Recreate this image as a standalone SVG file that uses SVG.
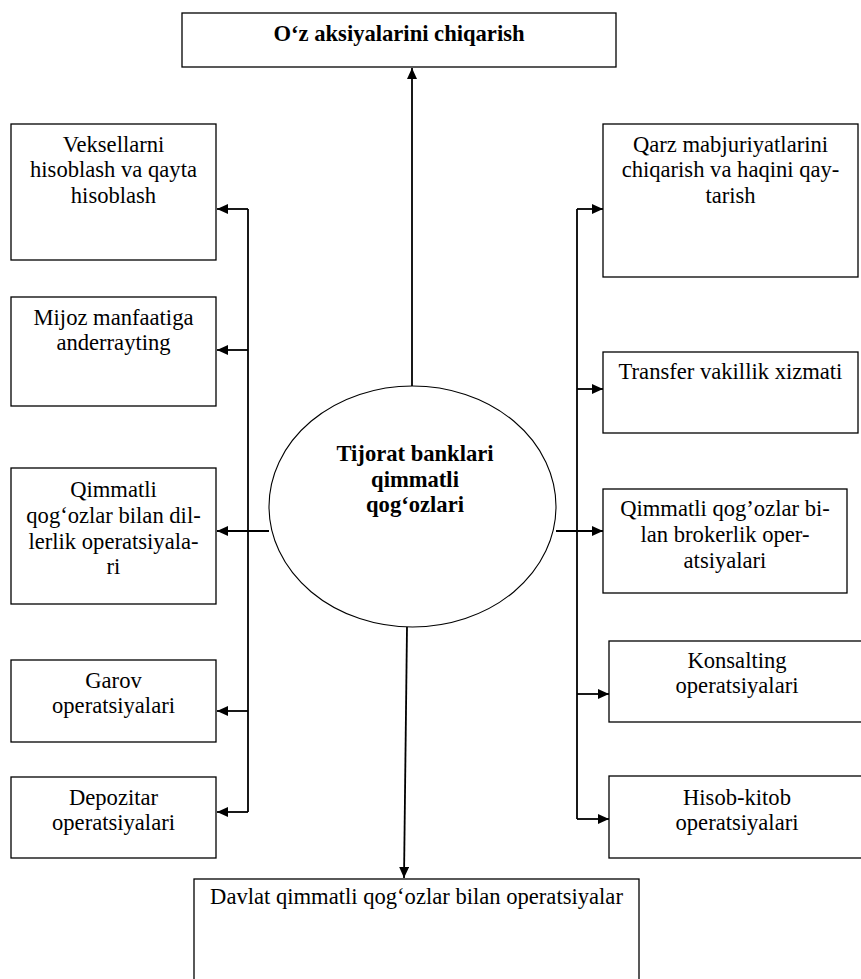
<svg xmlns="http://www.w3.org/2000/svg" width="861" height="979" viewBox="0 0 861 979">
<style>
.box{fill:#fff;stroke:#000;stroke-width:1.3}
.ell{fill:#fff;stroke:#000;stroke-width:1.1}
.t{font-family:"Liberation Serif","Times New Roman",serif;font-size:22.6px;fill:#000;text-anchor:middle}
.b{font-weight:bold}
.c{fill:none;stroke:#000;stroke-width:1.8}
.a{fill:none;stroke:#000;stroke-width:1.8;marker-end:url(#ah)}
</style>
<defs>
<marker id="ah" markerUnits="userSpaceOnUse" markerWidth="12" markerHeight="10" refX="11" refY="5" orient="auto">
<path d="M0,0 L11,5 L0,10 z" fill="#000"/>
</marker>
</defs>
<g id="connectors">
<path class="a" d="M412,386 V68"/>
<path class="c" d="M248,209 V812"/>
<path class="a" d="M248,209 H217"/>
<path class="a" d="M248,350 H217"/>
<path class="a" d="M269,531 H217"/>
<path class="a" d="M248,711 H217"/>
<path class="a" d="M248,812 H217"/>
<path class="c" d="M577,209 V819"/>
<path class="a" d="M577,209 H603"/>
<path class="a" d="M577,389 H603"/>
<path class="a" d="M556,531 H603"/>
<path class="a" d="M577,694 H609"/>
<path class="a" d="M577,819 H609"/>
<path class="a" d="M407,627 L404,878"/>
</g>
<g id="top">
<rect class="box" x="182" y="13" width="434" height="54"/>
<text class="t b" x="399" y="41">O‘z aksiyalarini chiqarish</text>
</g>
<g id="center">
<ellipse class="ell" cx="412.5" cy="506.5" rx="143.5" ry="120.5"/>
<text class="t b" x="415" y="461">Tijorat banklari</text>
<text class="t b" x="415" y="487">qimmatli</text>
<text class="t b" x="415" y="512">qog‘ozlari</text>
</g>
<g id="l1">
<rect class="box" x="11" y="124" width="205" height="136"/>
<text class="t" x="113.5" y="152">Veksellarni</text>
<text class="t" x="113.5" y="177">hisoblash va qayta</text>
<text class="t" x="113.5" y="203">hisoblash</text>
</g>
<g id="l2">
<rect class="box" x="11" y="297" width="205" height="109"/>
<text class="t" x="113.5" y="325">Mijoz manfaatiga</text>
<text class="t" x="113.5" y="350">anderrayting</text>
</g>
<g id="l3">
<rect class="box" x="11" y="468" width="205" height="136"/>
<text class="t" x="113.5" y="497">Qimmatli</text>
<text class="t" x="113.5" y="523">qog‘ozlar bilan dil-</text>
<text class="t" x="113.5" y="549">lerlik operatsiyala-</text>
<text class="t" x="113.5" y="574">ri</text>
</g>
<g id="l4">
<rect class="box" x="11" y="660" width="205" height="82"/>
<text class="t" x="113.5" y="688">Garov</text>
<text class="t" x="113.5" y="713">operatsiyalari</text>
</g>
<g id="l5">
<rect class="box" x="11" y="777" width="205" height="81"/>
<text class="t" x="113.5" y="805">Depozitar</text>
<text class="t" x="113.5" y="830">operatsiyalari</text>
</g>
<g id="r1">
<rect class="box" x="603" y="124" width="255" height="153"/>
<text class="t" x="730.5" y="152">Qarz mabjuriyatlarini</text>
<text class="t" x="730.5" y="177">chiqarish va haqini qay-</text>
<text class="t" x="730.5" y="203">tarish</text>
</g>
<g id="r2">
<rect class="box" x="603" y="352" width="255" height="81"/>
<text class="t" x="730.5" y="379">Transfer vakillik xizmati</text>
</g>
<g id="r3">
<rect class="box" x="603" y="489" width="244" height="104"/>
<text class="t" x="725" y="516">Qimmatli qog’ozlar bi-</text>
<text class="t" x="725" y="542">lan brokerlik oper-</text>
<text class="t" x="725" y="568">atsiyalari</text>
</g>
<g id="r4">
<rect class="box" x="609" y="641" width="256" height="81"/>
<text class="t" x="737" y="668">Konsalting</text>
<text class="t" x="737" y="693">operatsiyalari</text>
</g>
<g id="r5">
<rect class="box" x="609" y="776" width="256" height="82"/>
<text class="t" x="737" y="805">Hisob-kitob</text>
<text class="t" x="737" y="830">operatsiyalari</text>
</g>
<g id="bottom">
<rect class="box" x="194" y="879" width="445" height="110"/>
<text class="t" x="416.5" y="904">Davlat qimmatli qog‘ozlar bilan operatsiyalar</text>
</g>
</svg>
